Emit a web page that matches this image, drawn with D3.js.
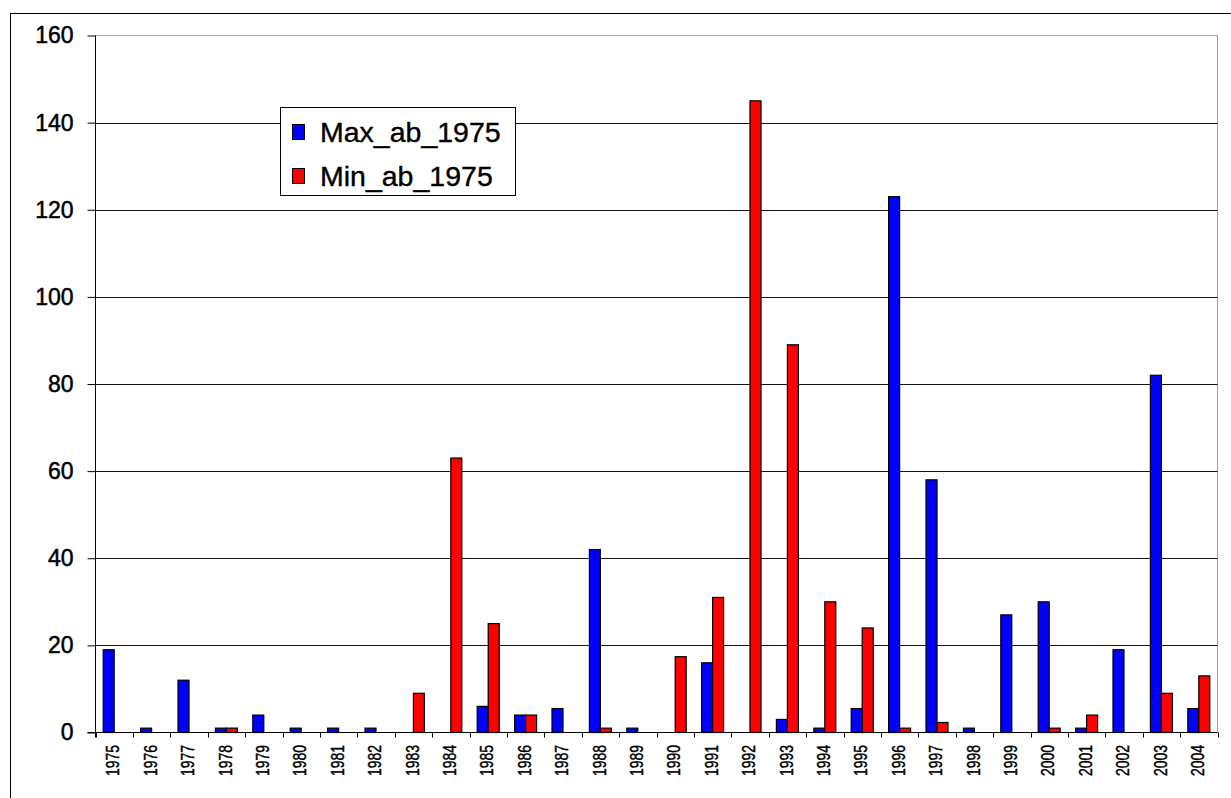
<!DOCTYPE html>
<html>
<head>
<meta charset="utf-8">
<script src="https://cdn.jsdelivr.net/npm/d3@7"></script>
<style>
  html, body { margin: 0; padding: 0; background: #fff; }
  svg { display: block; font-family: "Liberation Sans", Arial, sans-serif; }
</style>
</head>
<body>
<svg id="chart" width="1231" height="798"></svg>
<script>
// Yearly counts for the two series
const years = ["1975","1976","1977","1978","1979","1980","1981","1982","1983","1984",
               "1985","1986","1987","1988","1989","1990","1991","1992","1993","1994",
               "1995","1996","1997","1998","1999","2000","2001","2002","2003","2004"];
const maxAb = [19, 1, 12, 1, 4, 1, 1, 1, 0, 0,
               6, 4, 5.5, 42, 1, 0, 16, 0, 3, 1,
               5.5, 123, 58, 1, 27, 30, 1, 19, 82, 5.5];
const minAb = [0, 0, 0, 1, 0, 0, 0, 0, 9, 63,
               25, 4, 0, 1, 0, 17.4, 31, 145, 89, 30,
               24, 1, 2.3, 0, 0, 1, 4, 0, 9, 13];
const seriesNames = ["Max_ab_1975", "Min_ab_1975"];
const seriesColors = ["#0000ff", "#ff0000"];
const yTicks = [0, 20, 40, 60, 80, 100, 120, 140, 160];

const svg = d3.select("#chart");
const W = 1231, H = 798;
const plot = { left: 95.5, right: 1217.5, top: 35.5, bottom: 732.5 };

// Outer chart frame (runs off the right and bottom edges)
svg.append("rect")
  .attr("x", 10.5).attr("y", 13.5)
  .attr("width", W + 20).attr("height", H + 20)
  .attr("fill", "#fff").attr("stroke", "#000").attr("stroke-width", 1);

const x0 = d3.scaleBand().domain(years).range([plot.left, plot.right]).padding(0);
const x1 = d3.scaleBand().domain(seriesNames).range([0, x0.bandwidth()])
  .paddingInner(0).paddingOuter(0.7);
const y = d3.scaleLinear().domain([0, 160]).range([plot.bottom, plot.top]);

// Plot area border
svg.append("rect")
  .attr("x", plot.left).attr("y", plot.top)
  .attr("width", plot.right - plot.left).attr("height", plot.bottom - plot.top)
  .attr("fill", "none").attr("stroke", "#a0a0a0").attr("stroke-width", 1);

// Horizontal gridlines
svg.append("g").selectAll("line")
  .data(yTicks.filter(t => t > 0 && t < 160))
  .join("line")
  .attr("x1", plot.left).attr("x2", plot.right)
  .attr("y1", d => Math.round(y(d)) + 0.5).attr("y2", d => Math.round(y(d)) + 0.5)
  .attr("stroke", "#111").attr("stroke-width", 1);

// Bars
const rows = years.map((yr, i) => ({ year: yr, vals: [maxAb[i], minAb[i]] }));
const groups = svg.append("g").selectAll("g")
  .data(rows).join("g")
  .attr("transform", d => `translate(${x0(d.year)},0)`);
groups.selectAll("rect")
  .data(d => d.vals.map((v, k) => ({ name: seriesNames[k], color: seriesColors[k], value: v })).filter(e => e.value > 0))
  .join("rect")
  .attr("x", d => x1(d.name))
  .attr("y", d => y(d.value))
  .attr("width", x1.bandwidth())
  .attr("height", d => y(0) - y(d.value))
  .attr("fill", d => d.color)
  .attr("stroke", "#000").attr("stroke-width", 1.2);

// Y axis
const yAxis = d3.axisLeft(y).tickValues(yTicks).tickSize(8).tickPadding(14).tickFormat(d3.format("d"));
const gy = svg.append("g").attr("transform", `translate(${plot.left},0)`).call(yAxis);
gy.select(".domain").attr("stroke", "#000").attr("d", `M0,${plot.top}V${plot.bottom + 5}`);
gy.selectAll(".tick line").attr("stroke", "#000");
gy.selectAll(".tick text").attr("font-size", 23).attr("fill", "#000")
  .attr("stroke", "#000").attr("stroke-width", 0.5)
  .attr("font-family", "'Liberation Sans', Arial, sans-serif");

// X axis: ticks at category boundaries
const gx = svg.append("g");
gx.append("line")
  .attr("x1", plot.left - 8).attr("x2", plot.right)
  .attr("y1", plot.bottom).attr("y2", plot.bottom)
  .attr("stroke", "#000");
gx.selectAll("line.tk")
  .data(years.concat(["end"]))
  .join("line").attr("class", "tk")
  .attr("x1", (d, i) => Math.round(plot.left + i * x0.step()) + 0.5)
  .attr("x2", (d, i) => Math.round(plot.left + i * x0.step()) + 0.5)
  .attr("y1", plot.bottom).attr("y2", plot.bottom + 5)
  .attr("stroke", "#000");
gx.selectAll("text")
  .data(years).join("text")
  .attr("transform", d => `translate(${x0(d) + x0.bandwidth() / 2 - 1},745) rotate(-90) scale(1,1.25)`)
  .attr("text-anchor", "end")
  .attr("dy", "0.35em")
  .attr("font-size", 14)
  .attr("fill", "#000")
  .attr("stroke", "#000").attr("stroke-width", 0.35)
  .text(d => d);

// Legend
const lg = svg.append("g");
lg.append("rect")
  .attr("x", 280.5).attr("y", 107.5).attr("width", 235).attr("height", 88)
  .attr("fill", "#fff").attr("stroke", "#000");
seriesNames.forEach((name, k) => {
  const cy = 132 + k * 44;
  lg.append("rect")
    .attr("x", 292.5).attr("y", cy - 7.5).attr("width", 12).attr("height", 15)
    .attr("fill", seriesColors[k]).attr("stroke", "#000");
  lg.append("text")
    .attr("x", 320).attr("y", cy + 10)
    .attr("font-size", 28.5).attr("fill", "#000")
    .attr("stroke", "#000").attr("stroke-width", 0.4)
    .text(name);
});
</script>
</body>
</html>
